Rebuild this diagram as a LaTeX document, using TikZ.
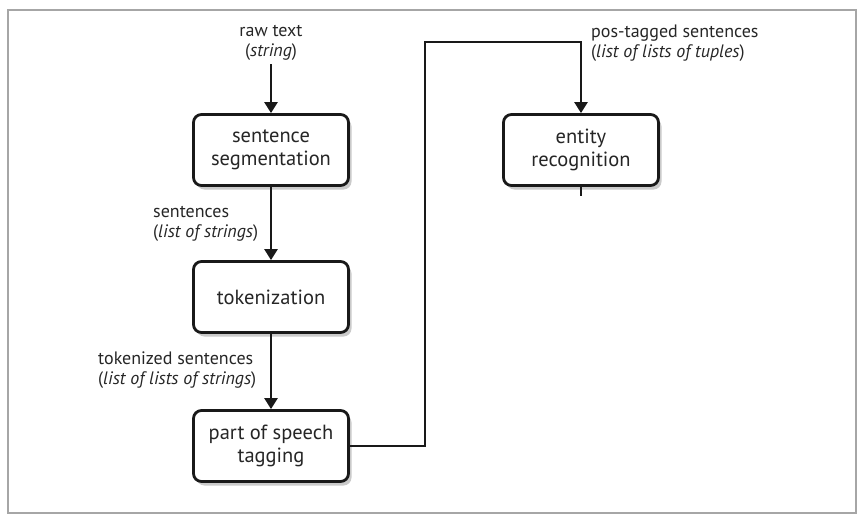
\documentclass[tikz,border=0pt]{standalone}
\usepackage{fontspec}
\setmainfont{PT Sans}
\usetikzlibrary{arrows.meta,shadows}
\begin{document}
\begin{tikzpicture}[x=1pt,y=-1pt,
  stepbox/.style={draw=black!90, rounded corners=8pt, line width=2.8pt,
    minimum width=155pt, minimum height=71pt, fill=white, align=center,
    font=\fontsize{20.5}{23.5}\selectfont, inner sep=0pt, text=black!85,
    drop shadow={shadow xshift=3pt, shadow yshift=-4pt, opacity=0.35, fill=black!60}},
  lbl/.style={font=\fontsize{18}{20.5}\selectfont, inner sep=0pt, text=black!85},
  flow/.style={draw=black!90, line width=2.5pt, -{Triangle[width=13pt,length=11pt]}},
  plain/.style={draw=black!90, line width=2.5pt}]
\useasboundingbox (0,0) rectangle (864,522);
\draw[black!35, line width=1.2pt] (8,10) rectangle (856,513);
\node[stepbox] (seg) at (271,150) {sentence\\segmentation};
\node[stepbox] (tok) at (271,297) {tokenization};
\node[stepbox] (pos) at (271,446) {part of speech\\tagging};
\node[stepbox] (ent) at (581,150) {entity\\recognition};
\node[lbl, align=center] (raw) at (271,43) {raw text\\(\textit{string})};
\node[lbl, align=left, anchor=west] (sen) at (153,224) {sentences\\(\textit{list of strings})};
\node[lbl, align=left, anchor=west] (toks) at (98,370) {tokenized sentences\\(\textit{list of lists of strings})};
\node[lbl, align=left, anchor=west] (post) at (591,43) {pos-tagged sentences\\(\textit{list of lists of tuples})};
\coordinate (rawend) at (271,64);
\coordinate (c1) at (425,42);
\coordinate (stub) at (581,196);
\draw[flow] (rawend) -- (seg.north);
\draw[flow] (seg.south) -- (tok.north);
\draw[flow] (tok.south) -- (pos.north);
\draw[flow] (pos.east) -| (c1) -| (ent.north);
\draw[plain, shorten <=-1.5pt] (ent.south) -- (stub);
\end{tikzpicture}
\end{document}
